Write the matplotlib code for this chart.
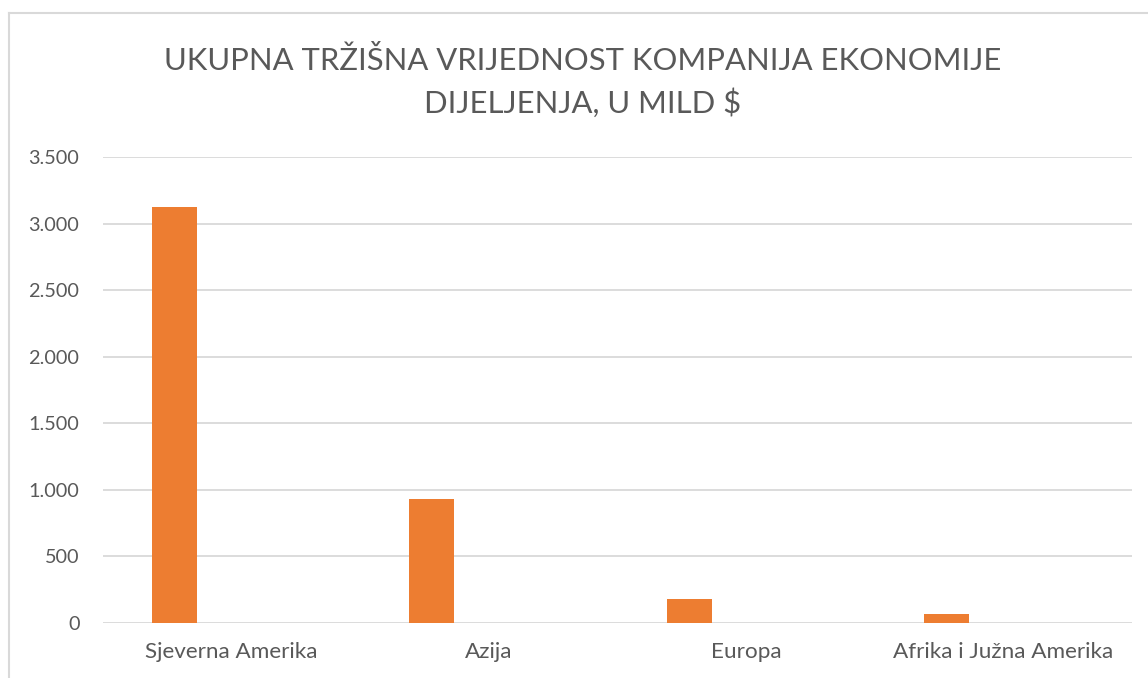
import matplotlib.pyplot as plt
from matplotlib.ticker import FuncFormatter
from matplotlib.lines import Line2D
import numpy as np

plt.rcParams['font.family'] = ['Lato', 'DejaVu Sans']

# market value of sharing-economy companies, bn $
REGIONS = ['Sjeverna Amerika', 'Azija', 'Europa', 'Afrika i Južna Amerika']
VALUES = [3125, 932, 180, 68]
TITLE = 'UKUPNA TRŽIŠNA VRIJEDNOST KOMPANIJA EKONOMIJE\nDIJELJENJA, U MILD $'

TEXT = '#595959'
GRID = '#d9d9d9'
BAR = '#ed7d31'

fig = plt.figure(figsize=(11.48, 6.78), dpi=100)
ax = fig.add_axes([103 / 1148, 1 - 623 / 678, (1132 - 103) / 1148, (623 - 157) / 678])

x = np.arange(len(REGIONS))
ax.bar(x - 0.222, VALUES, width=0.175, color=BAR, zorder=3)

ax.set_xlim(-0.5, len(REGIONS) - 0.5)
ax.set_ylim(0, 3500)
ax.set_yticks(np.arange(0, 3501, 500))
ax.yaxis.set_major_formatter(FuncFormatter(lambda v, _: f'{int(v):,}'.replace(',', '.')))
ax.set_xticks(x)
ax.set_xticklabels(REGIONS)

ax.grid(axis='y', color=GRID, linewidth=1.3, zorder=0)
for s in ax.spines.values():
    s.set_visible(False)
ax.tick_params(axis='both', length=0, labelcolor=TEXT)
ax.tick_params(axis='y', pad=17, labelsize=14.3)
ax.tick_params(axis='x', pad=14, labelsize=16.2)

fig.text(583 / 1148, 1 - 82 / 678, TITLE, ha='center', va='center',
         fontsize=22.3, color=TEXT, linespacing=1.5)

# outer chart frame (left and top edges visible)
fig.add_artist(Line2D([8.5 / 1148, 8.5 / 1148], [0, 1 - 12.5 / 678], transform=fig.transFigure,
                      color=GRID, linewidth=1.5))
fig.add_artist(Line2D([8.5 / 1148, 1], [1 - 12.5 / 678, 1 - 12.5 / 678], transform=fig.transFigure,
                      color=GRID, linewidth=1.5))

fig.savefig('out.png', dpi=100)
